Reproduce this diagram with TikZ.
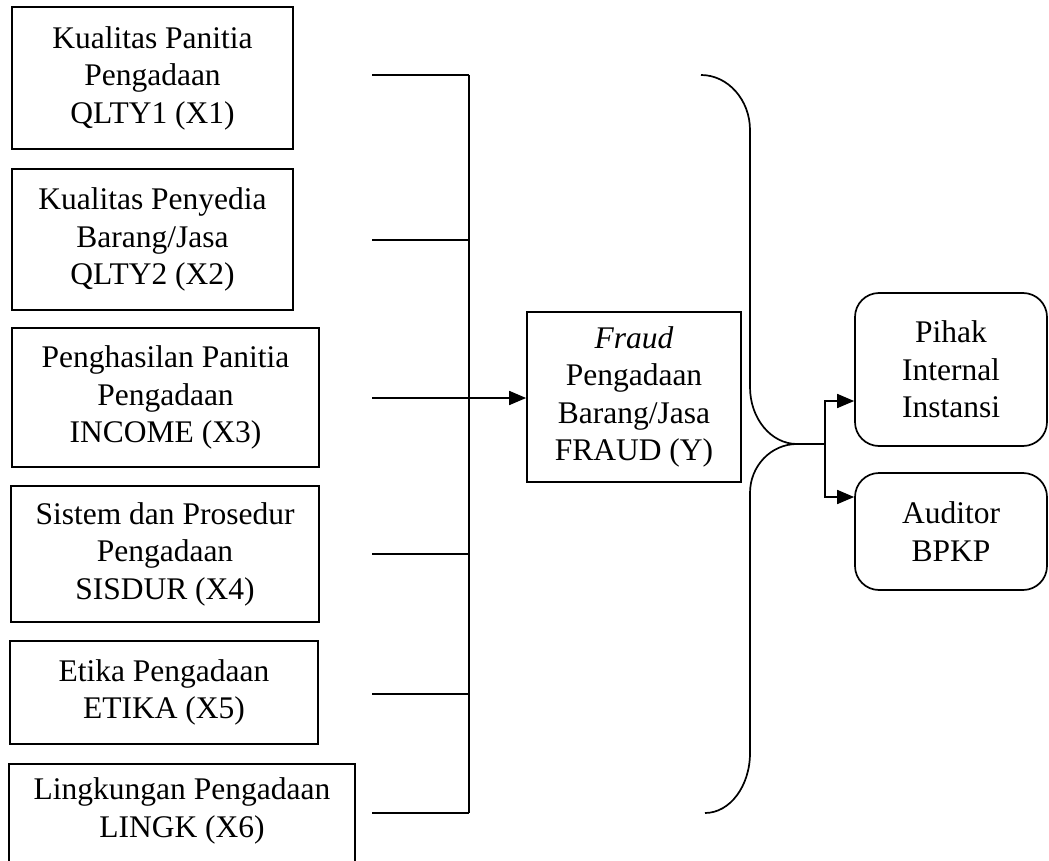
\documentclass[tikz,border=0pt]{standalone}
\usepackage{fontspec}
\setmainfont{Liberation Serif}
\usetikzlibrary{arrows.meta}
\begin{document}
\begin{tikzpicture}[x=1pt,y=-1pt,
  txt/.style={font=\fontsize{31.5}{37.5}\selectfont, align=center},
  sbox/.style={txt, draw, line width=1.7pt, inner sep=0pt},
  rbox/.style={sbox, rounded corners=24pt},
  ln/.style={line width=1.7pt},
  arr/.style={ln, -{Triangle[length=17pt,width=14pt]}}]
\useasboundingbox (0,0) rectangle (1049,861);
\fill[white] (0,0) rectangle (1049,861);
% left boxes
\node[sbox, minimum width=281pt, minimum height=142pt] (b1) at (152.5,78) {Kualitas Panitia\\Pengadaan\\QLTY1 (X1)};
\node[sbox, minimum width=281pt, minimum height=141pt] (b2) at (152.5,239.5) {Kualitas Penyedia\\Barang/Jasa\\QLTY2 (X2)};
\node[sbox, minimum width=307pt, minimum height=139pt] (b3) at (165.5,397.5) {Penghasilan Panitia\\Pengadaan\\INCOME (X3)};
\node[sbox, minimum width=308pt, minimum height=136pt] (b4) at (165,554) {Sistem dan Prosedur\\Pengadaan\\SISDUR (X4)};
\node[sbox, minimum width=308pt, minimum height=103pt] (b5) at (164,692.5) {Etika Pengadaan\\ETIKA (X5)};
\node[sbox, minimum width=346pt, minimum height=104pt] (b6) at (182,816) {};
\node[txt] (t6) at (182,811) {Lingkungan Pengadaan\\LINGK (X6)};
% center box
\node[sbox, minimum width=214pt, minimum height=170pt] (fr) at (634,397) {\textit{Fraud}\\Pengadaan\\Barang/Jasa\\FRAUD (Y)};
% right boxes
\node[rbox, minimum width=192pt, minimum height=153pt] (pi) at (951,369.5) {Pihak\\Internal\\Instansi};
\node[rbox, minimum width=192pt, minimum height=117pt] (au) at (951,531.5) {Auditor\\BPKP};
% connector coordinates
\coordinate (s1) at (372,75);  \coordinate (j1) at (469,75);
\coordinate (s2) at (372,240); \coordinate (j2) at (469,240);
\coordinate (s3) at (372,398); \coordinate (j3) at (469,398);
\coordinate (s4) at (372,554); \coordinate (j4) at (469,554);
\coordinate (s5) at (372,694); \coordinate (j5) at (469,694);
\coordinate (s6) at (372,813); \coordinate (j6) at (469,813);
\draw[ln] (s1) -- (j1);
\draw[ln] (s2) -- (j2);
\draw[ln] (s3) -- (j3);
\draw[ln] (s4) -- (j4);
\draw[ln] (s5) -- (j5);
\draw[ln] (s6) -- (j6);
\draw[ln] (j1) -- (j6);
\draw[arr] (j3) -- (fr.west |- j3);
% brace
\coordinate (tip) at (797,444);
\draw[ln] (701,75) .. controls (728,75) and (750,100) .. (750,130)
  -- (750,387) .. controls (750,418.5) and (771,444) .. (tip)
  .. controls (771,444) and (750,466) .. (750,493)
  -- (750,753) .. controls (750,786) and (730,813) .. (705,813);
% right connectors
\coordinate (jr) at (825,444);
\coordinate (ju) at (825,401);
\coordinate (jd) at (825,497);
\draw[ln] (tip) -- (jr);
\draw[arr] (jr) -- (ju) -- (pi.west |- ju);
\draw[arr] (jr) -- (jd) -- (au.west |- jd);
\end{tikzpicture}
\end{document}
